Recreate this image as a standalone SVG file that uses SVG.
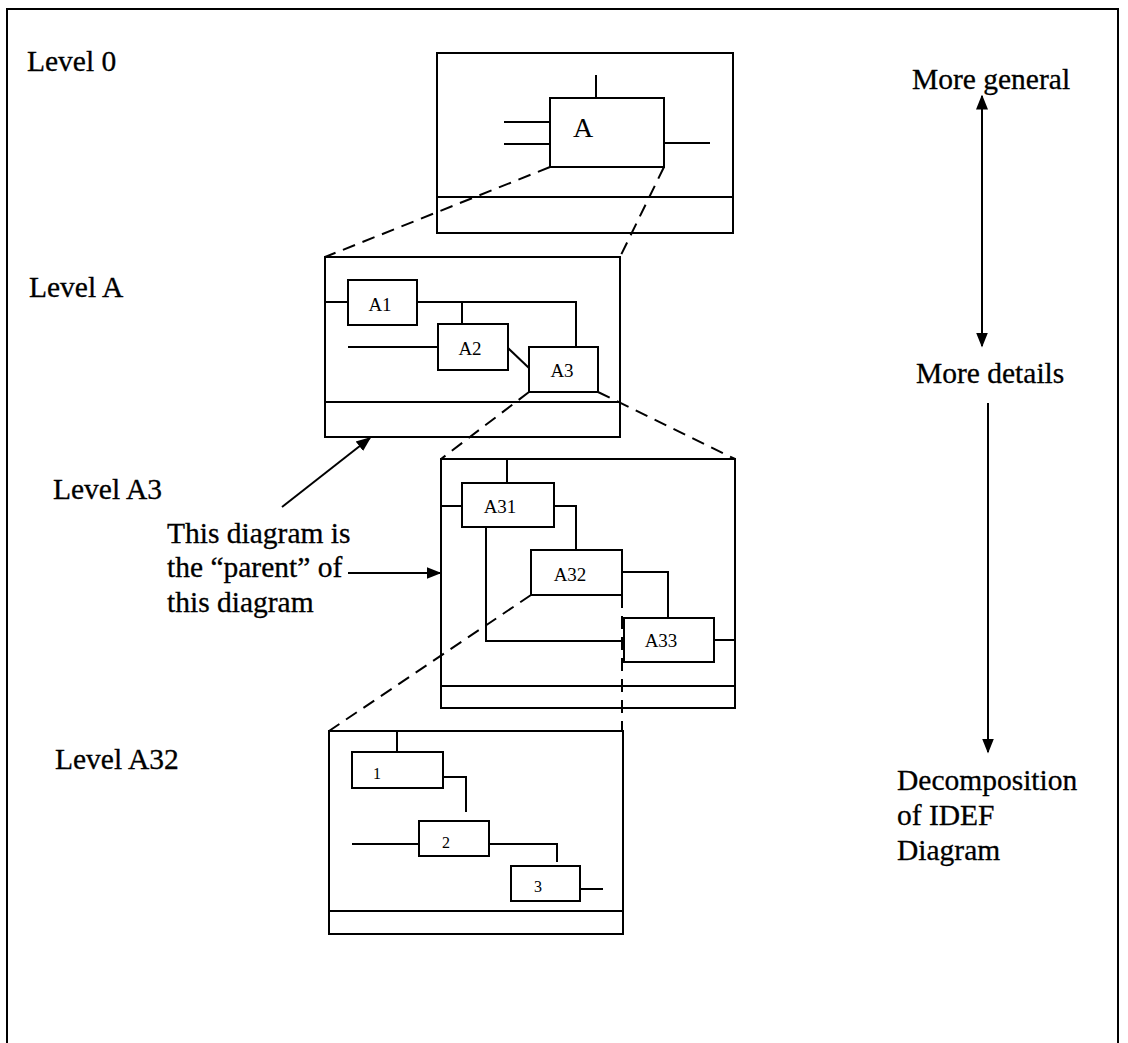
<svg xmlns="http://www.w3.org/2000/svg" width="1128" height="1043" viewBox="0 0 1128 1043">
<defs>
<style>
.ln{fill:none;stroke:#000;stroke-width:2}
.bx{fill:#fff;stroke:#000;stroke-width:2}
.ds{fill:none;stroke:#000;stroke-width:2;stroke-dasharray:13 8}
.t{font-family:"Liberation Serif","Times New Roman",serif;font-size:29.5px;fill:#000;stroke:#000;stroke-width:0.3}
.bl{font-family:"Liberation Serif","Times New Roman",serif;fill:#000;text-anchor:middle}
</style>
<marker id="ah2" viewBox="0 0 10 10" refX="9" refY="5" markerWidth="15" markerHeight="15" orient="auto-start-reverse" markerUnits="userSpaceOnUse">
<path d="M0,1 L10,5 L0,9 z" fill="#000"/>
</marker>
</defs>
<rect width="1128" height="1043" fill="#fff"/>
<path class="ln" d="M7,1043 V9 H1118 V1043"/>

<g id="labels">
<text class="t" x="27" y="71">Level 0</text>
<text class="t" x="29" y="297">Level A</text>
<text class="t" x="53" y="499">Level A3</text>
<text class="t" x="55" y="769">Level A32</text>
<text class="t" x="912" y="89">More general</text>
<text class="t" x="916" y="383">More details</text>
<text class="t" x="897" y="790">Decomposition</text>
<text class="t" x="897" y="825">of IDEF</text>
<text class="t" x="897" y="860">Diagram</text>
<text class="t" x="167" y="543">This diagram is</text>
<text class="t" x="167" y="577">the “parent” of</text>
<text class="t" x="167" y="612">this diagram</text>
</g>

<g id="level0">
<rect class="ln" x="437" y="53" width="296" height="180"/>
<line class="ln" x1="437" y1="197" x2="733" y2="197"/>
<line class="ln" x1="596" y1="75" x2="596" y2="98"/>
<line class="ln" x1="504" y1="122" x2="550" y2="122"/>
<line class="ln" x1="504" y1="144" x2="550" y2="144"/>
<line class="ln" x1="664" y1="143" x2="710" y2="143"/>
<g id="nodeA">
<rect class="bx" x="550" y="98" width="114" height="69"/>
<text class="bl" x="583" y="137" font-size="28">A</text>
</g>
</g>

<g id="levelA">
<rect class="ln" x="325" y="257" width="295" height="180"/>
<line class="ln" x1="325" y1="402" x2="620" y2="402"/>
<line class="ln" x1="325" y1="302" x2="348" y2="302"/>
<path class="ln" d="M417,302 H576 V347"/>
<line class="ln" x1="462" y1="302" x2="462" y2="324"/>
<line class="ln" x1="348" y1="347" x2="438" y2="347"/>
<line class="ln" x1="508" y1="348" x2="529" y2="368"/>
<g id="nodeA1"><rect class="bx" x="348" y="280" width="69" height="45"/><text class="bl" x="380" y="311" font-size="19">A1</text></g>
<g id="nodeA2"><rect class="bx" x="438" y="324" width="70" height="46"/><text class="bl" x="470" y="355" font-size="19">A2</text></g>
<g id="nodeA3"><rect class="bx" x="529" y="347" width="69" height="45"/><text class="bl" x="562" y="377" font-size="19">A3</text></g>
</g>

<g id="levelA3">
<rect class="ln" x="441" y="459" width="294" height="249"/>
<line class="ln" x1="441" y1="686" x2="735" y2="686"/>
<line class="ln" x1="507" y1="459" x2="507" y2="483"/>
<line class="ln" x1="441" y1="506" x2="462" y2="506"/>
<path class="ln" d="M554,506 H576 V550"/>
<path class="ln" d="M486,527 V641 H624"/>
<path class="ln" d="M622,572 H668 V618"/>
<line class="ln" x1="714" y1="640" x2="735" y2="640"/>
<g id="nodeA31"><rect class="bx" x="462" y="483" width="92" height="44"/><text class="bl" x="500" y="513" font-size="19">A31</text></g>
<g id="nodeA32"><rect class="bx" x="531" y="550" width="91" height="45"/><text class="bl" x="570" y="581" font-size="19">A32</text></g>
<g id="nodeA33"><rect class="bx" x="624" y="618" width="90" height="44"/><text class="bl" x="661" y="647" font-size="19">A33</text></g>
</g>

<g id="levelA32">
<rect class="ln" x="329" y="731" width="294" height="203"/>
<line class="ln" x1="329" y1="911" x2="623" y2="911"/>
<line class="ln" x1="397" y1="731" x2="397" y2="752"/>
<path class="ln" d="M443,777 H466 V812"/>
<line class="ln" x1="352" y1="844" x2="419" y2="844"/>
<path class="ln" d="M489,844 H557 V862"/>
<line class="ln" x1="580" y1="889" x2="603" y2="889"/>
<g id="node1"><rect class="bx" x="352" y="752" width="91" height="36"/><text class="bl" x="377" y="779" font-size="16">1</text></g>
<g id="node2"><rect class="bx" x="419" y="821" width="70" height="35"/><text class="bl" x="446" y="848" font-size="16">2</text></g>
<g id="node3"><rect class="bx" x="511" y="866" width="69" height="35"/><text class="bl" x="538" y="892" font-size="16">3</text></g>
</g>

<g id="connectors">
<line class="ds" x1="550" y1="167" x2="325" y2="257"/>
<line class="ds" x1="664" y1="167" x2="620" y2="257"/>
<line class="ds" x1="529" y1="392" x2="441" y2="459"/>
<line class="ds" x1="598" y1="392" x2="735" y2="459"/>
<line class="ds" x1="531" y1="595" x2="329" y2="731"/>
<line class="ds" x1="622" y1="595" x2="622" y2="731"/>
<line class="ln" x1="982" y1="96" x2="982" y2="346" marker-start="url(#ah2)" marker-end="url(#ah2)"/>
<line class="ln" x1="988" y1="403" x2="988" y2="752" marker-end="url(#ah2)"/>
<line class="ln" x1="282" y1="507" x2="370" y2="438" marker-end="url(#ah2)"/>
<line class="ln" x1="348" y1="573" x2="440" y2="573" marker-end="url(#ah2)"/>
</g>
</svg>
